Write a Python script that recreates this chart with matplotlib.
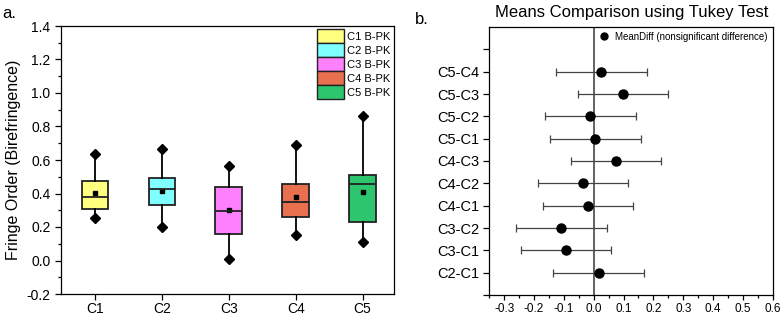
import matplotlib
matplotlib.use("Agg")
import matplotlib.pyplot as plt
from matplotlib.patches import Patch
from matplotlib.lines import Line2D
from matplotlib.ticker import MultipleLocator, FixedLocator

plt.rcParams['font.family'] = ['Liberation Sans', 'DejaVu Sans']

# ---- Panel a data (box plot statistics) ----
groups = ["C1", "C2", "C3", "C4", "C5"]
legend_labels = ["C1 B-PK", "C2 B-PK", "C3 B-PK", "C4 B-PK", "C5 B-PK"]
box_min = [0.251, 0.201, 0.006, 0.153, 0.113]
box_q1 = [0.308, 0.332, 0.161, 0.260, 0.229]
box_med = [0.382, 0.424, 0.296, 0.348, 0.457]
box_q3 = [0.475, 0.495, 0.440, 0.456, 0.513]
box_max = [0.635, 0.664, 0.565, 0.687, 0.863]
box_mean = [0.404, 0.416, 0.304, 0.382, 0.408]
box_colors = ["#FFFF80", "#80FFFF", "#FF80FF", "#E8704E", "#2DC66F"]

# ---- Panel b data (Tukey mean differences) ----
pairs = ["C2-C1", "C3-C1", "C3-C2", "C4-C1", "C4-C2",
         "C4-C3", "C5-C1", "C5-C2", "C5-C3", "C5-C4"]
mean_diff = [0.018, -0.093, -0.110, -0.020, -0.036,
             0.075, 0.005, -0.012, 0.099, 0.025]
ci_low = [-0.135, -0.245, -0.261, -0.170, -0.187,
          -0.076, -0.146, -0.164, -0.053, -0.125]
ci_high = [0.170, 0.058, 0.043, 0.133, 0.115,
           0.227, 0.157, 0.142, 0.249, 0.177]

W, H = 781, 316
fig = plt.figure(figsize=(W / 100, H / 100), dpi=100)

# ================= Panel a =================
axa = fig.add_axes([61 / W, (H - 294) / H, (394 - 61) / W, (294 - 26) / H])
pos = list(range(1, len(groups) + 1))
stats = []
for i in range(len(groups)):
    stats.append(dict(med=box_med[i], q1=box_q1[i], q3=box_q3[i],
                      whislo=box_min[i], whishi=box_max[i], mean=box_mean[i],
                      fliers=[], label=groups[i]))
bp = axa.bxp(stats, positions=pos, widths=0.4, patch_artist=True,
             showcaps=False, showfliers=False, showmeans=False,
             boxprops=dict(linewidth=1.3, edgecolor="#222222"),
             medianprops=dict(color="#222222", linewidth=1.3),
             whiskerprops=dict(color="black", linewidth=1.3))
for patch, c in zip(bp["boxes"], box_colors):
    patch.set_facecolor(c)
axa.plot(pos, box_min, linestyle="none", marker="D", color="black", markersize=5)
axa.plot(pos, box_max, linestyle="none", marker="D", color="black", markersize=5)
axa.plot(pos, box_mean, linestyle="none", marker="s", color="black", markersize=2.5)

axa.set_xlim(0.49, 5.47)
axa.set_ylim(-0.2, 1.4)
axa.set_xticks(pos)
axa.set_xticklabels(groups)
axa.yaxis.set_major_locator(MultipleLocator(0.2))
axa.yaxis.set_minor_locator(MultipleLocator(0.1))
axa.set_yticklabels([f"{v:.1f}" for v in axa.get_yticks()])
axa.tick_params(axis="both", which="major", labelsize=10, length=4, width=0.9, direction="out")
axa.tick_params(axis="x", which="major", pad=2)
axa.tick_params(axis="y", which="minor", length=2.5, width=0.9, direction="out")
axa.set_ylabel("Fringe Order (Birefringence)", fontsize=11.5, labelpad=4)
for s in axa.spines.values():
    s.set_linewidth(0.9)

handles = [Patch(facecolor=c, edgecolor="#222222", linewidth=1.0) for c in box_colors]
axa.legend(handles, legend_labels, loc="upper right", bbox_to_anchor=(1.0, 1.0),
           frameon=False, fontsize=8, handlelength=2.4, handleheight=1.55,
           labelspacing=0.0, handletextpad=0.3, borderaxespad=0.1, borderpad=0.2)

fig.text(2 / W, 1 - 13 / H, "a.", fontsize=12, va="center", ha="left")

# ================= Panel b =================
axb = fig.add_axes([489.3 / W, (H - 295) / H, (772.7 - 489.3) / W, (295 - 27) / H])
ypos = list(range(1, len(pairs) + 1))
xerr_lo = [m - l for m, l in zip(mean_diff, ci_low)]
xerr_hi = [h - m for m, h in zip(mean_diff, ci_high)]
axb.axvline(0, color="#555555", linewidth=1.3, zorder=1)
axb.errorbar(mean_diff, ypos, xerr=[xerr_lo, xerr_hi], fmt="none",
             ecolor="#444444", elinewidth=0.9, capsize=3, capthick=0.9, zorder=2)
axb.plot(mean_diff, ypos, linestyle="none", marker="o", color="black",
         markersize=6.5, zorder=3)

axb.set_xlim(-0.35, 0.6)
axb.set_ylim(0, 12)
axb.xaxis.set_major_locator(MultipleLocator(0.1))
axb.xaxis.set_minor_locator(MultipleLocator(0.05))
axb.set_xticklabels([f"{v:.1f}" if abs(v) > 1e-9 else "0.0" for v in axb.get_xticks()])
axb.yaxis.set_major_locator(FixedLocator(list(range(0, 12))))
axb.set_yticklabels([""] + pairs + [""])
axb.tick_params(axis="x", which="major", labelsize=8.5, length=3.5, width=0.9,
                direction="out", pad=2)
axb.tick_params(axis="x", which="minor", length=2.5, width=0.9, direction="out")
axb.tick_params(axis="y", which="major", labelsize=10.5, length=4, width=0.9, direction="out")
for s in axb.spines.values():
    s.set_linewidth(0.9)

leg_handle = Line2D([], [], linestyle="none", marker="o", color="black", markersize=5)
axb.legend([leg_handle], ["MeanDiff (nonsignificant difference)"], loc="upper right",
           frameon=False, fontsize=7, handlelength=1.2, handletextpad=0.6,
           borderaxespad=0.2, borderpad=0.3)

fig.text(415 / W, 1 - 20 / H, "b.", fontsize=12, va="center", ha="left")
fig.text(632 / W, 1 - 12 / H, "Means Comparison using Tukey Test", fontsize=12,
         va="center", ha="center")

fig.savefig("out.png", dpi=100)
